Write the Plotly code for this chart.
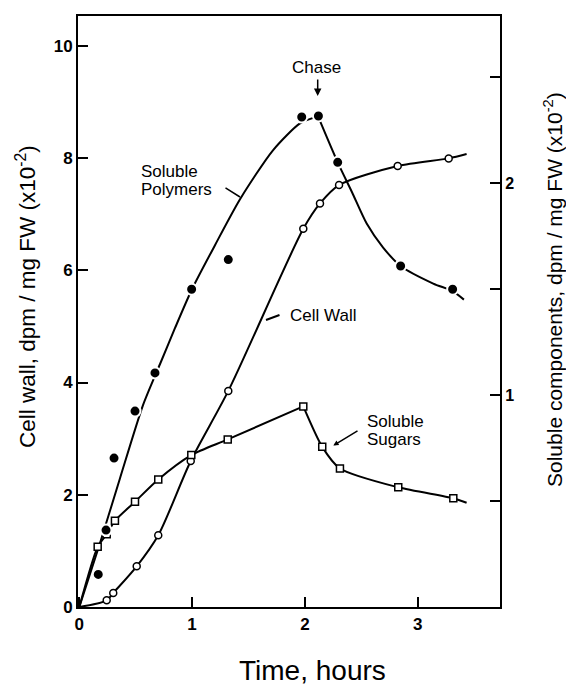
import plotly.graph_objects as go

# ---------------- data ----------------
# Soluble polymers (filled circles) -- right axis units
poly_t = [0.168, 0.237, 0.308, 0.494, 0.671, 0.996, 1.321, 1.972, 2.120, 2.291, 2.849, 3.310]
poly_v = [0.154, 0.363, 0.703, 0.925, 1.105, 1.500, 1.640, 2.313, 2.318, 2.099, 1.610, 1.500]
# hand-drawn curve for soluble polymers (rise until chase, then fall)
poly_rise_t = [0.0, 0.184, 0.361, 0.565, 0.715, 0.848, 0.999, 1.203, 1.425, 1.717, 1.957, 2.117]
poly_rise_v = [0.0, 0.302, 0.608, 0.953, 1.146, 1.316, 1.500, 1.708, 1.925, 2.156, 2.283, 2.316]
poly_fall_t = [2.117, 2.291, 2.418, 2.548, 2.692, 2.849, 3.138, 3.310, 3.410]
poly_fall_v = [2.316, 2.099, 1.958, 1.810, 1.698, 1.610, 1.527, 1.491, 1.451]

# Cell wall (open circles) -- left axis units
wall_t = [0.243, 0.301, 0.509, 0.700, 0.988, 1.321, 1.986, 2.134, 2.303, 2.823, 3.275]
wall_v = [0.119, 0.250, 0.725, 1.278, 2.602, 3.850, 6.738, 7.190, 7.517, 7.856, 7.993]
wall_curve_t = [0.0, 0.243, 0.301, 0.509, 0.700, 0.988, 1.321, 1.986, 2.134, 2.303, 2.823, 3.275, 3.434]
wall_curve_v = [0.0, 0.119, 0.250, 0.725, 1.278, 2.602, 3.850, 6.738, 7.190, 7.517, 7.856, 7.993, 8.070]

# Soluble sugars (open squares) -- right axis units
sugar_t = [0.163, 0.243, 0.316, 0.494, 0.700, 0.993, 1.316, 1.986, 2.154, 2.311, 2.828, 3.316]
sugar_v = [0.284, 0.344, 0.407, 0.497, 0.602, 0.717, 0.791, 0.947, 0.756, 0.654, 0.565, 0.513]
sugar_rise_t = [0.0, 0.163, 0.243, 0.316, 0.494, 0.700, 0.993, 1.316, 1.986]
sugar_rise_v = [0.0, 0.284, 0.344, 0.407, 0.497, 0.602, 0.717, 0.791, 0.947]
sugar_fall_t = [1.986, 2.154, 2.311, 2.828, 3.316, 3.434]
sugar_fall_v = [0.947, 0.756, 0.654, 0.565, 0.513, 0.492]

x_ticks = [0, 1, 2, 3]
left_ticks = [0, 2, 4, 6, 8, 10]
right_ticks = [0.5, 1, 1.5, 2, 2.5]
right_ticktext = ["", "1", "", "2", ""]

# ---------------- layout geometry ----------------
W, H = 566, 686
ML, MR, MT, MB = 78, 66, 16, 79
PW, PH = W - ML - MR, H - MT - MB


def P(px, py):
    return (px - ML) / PW, (H - MB - py) / PH


FONT = "Liberation Sans, Arial, Helvetica, sans-serif"

fig = go.Figure()

# curves
fig.add_trace(go.Scatter(x=wall_curve_t, y=wall_curve_v, mode="lines",
                         line=dict(color="black", width=2, shape="spline", smoothing=0.8),
                         hoverinfo="skip", showlegend=False))
for tt, vv in [(poly_rise_t, poly_rise_v), (poly_fall_t, poly_fall_v),
               (sugar_rise_t, sugar_rise_v), (sugar_fall_t, sugar_fall_v)]:
    fig.add_trace(go.Scatter(x=tt, y=vv, mode="lines", yaxis="y2",
                             line=dict(color="black", width=2, shape="spline", smoothing=0.7),
                             hoverinfo="skip", showlegend=False))

# markers
fig.add_trace(go.Scatter(x=wall_t, y=wall_v, mode="markers", name="Cell Wall",
                         marker=dict(symbol="circle", size=7, color="white",
                                     line=dict(color="black", width=1.5)),
                         showlegend=False))
fig.add_trace(go.Scatter(x=sugar_t, y=sugar_v, mode="markers", yaxis="y2", name="Soluble Sugars",
                         marker=dict(symbol="square", size=7, color="white",
                                     line=dict(color="black", width=1.5)),
                         showlegend=False))
fig.add_trace(go.Scatter(x=poly_t, y=poly_v, mode="markers", yaxis="y2", name="Soluble Polymers",
                         marker=dict(symbol="circle", size=11, color="black",
                                     line=dict(color="white", width=2)),
                         showlegend=False))

axis_common = dict(showgrid=False, zeroline=False, showline=True, linecolor="black",
                   linewidth=2, ticks="inside", ticklen=10, tickwidth=2, tickcolor="black")

fig.update_layout(
    width=W, height=H, autosize=False,
    margin=dict(l=ML, r=MR, t=MT, b=MB, pad=0),
    paper_bgcolor="white", plot_bgcolor="white",
    font=dict(family=FONT, color="black"),
    xaxis=dict(range=[-0.0115, 3.73], tickvals=x_ticks, mirror=True,
               tickfont=dict(size=17, weight="bold"), ticklabelstandoff=1, **axis_common),
    yaxis=dict(range=[0, 10.53], tickvals=left_ticks,
               tickfont=dict(size=17, weight="bold"), **axis_common),
    yaxis2=dict(range=[0, 2.79], tickvals=right_ticks, ticktext=right_ticktext,
                overlaying="y", side="right",
                tickfont=dict(size=16, weight="bold"), **axis_common),
)

ann = []


def text(px, py, s, size=17, xanchor="left", angle=0, weight="normal"):
    x, y = P(px, py)
    ann.append(dict(x=x, y=y, xref="paper", yref="paper", text=s, showarrow=False,
                    xanchor=xanchor, yanchor="middle", textangle=angle, borderpad=0,
                    font=dict(size=size, family=FONT, color="black", weight=weight)))


def pointer(hx, hy, tx, ty, head=0, size=1.0, width=1.5):
    x, y = P(hx, hy)
    ann.append(dict(x=x, y=y, xref="paper", yref="paper", text="", showarrow=True,
                    ax=tx - hx, ay=ty - hy, axref="pixel", ayref="pixel",
                    arrowhead=head, arrowsize=size, arrowwidth=width, arrowcolor="black"))


# axis titles
text(312.5, 670, "Time, hours", size=28, xanchor="center")
text(26, 297, "Cell wall, dpm / mg FW (x10<sup>-2</sup>)", size=22.5, xanchor="center", angle=-90)
text(553, 290, "Soluble components, dpm / mg FW (x10<sup>-2</sup>)", size=21, xanchor="center", angle=-90)

# curve labels
text(316.7, 67, "Chase", xanchor="center")
pointer(317.7, 96, 317.7, 78, head=2, size=1.0, width=1.5)
text(140, 171.5, "Soluble")
text(140, 189, "Polymers")
pointer(240, 197, 224, 187)
text(289, 315, "Cell Wall")
pointer(266, 320, 281, 314.5, width=2)
text(365.5, 421.5, "Soluble")
text(365.5, 439.5, "Sugars")
pointer(333.3, 445.5, 359, 430, head=2, size=0.7)

fig.update_layout(annotations=ann)
fig.write_html("out.html")
